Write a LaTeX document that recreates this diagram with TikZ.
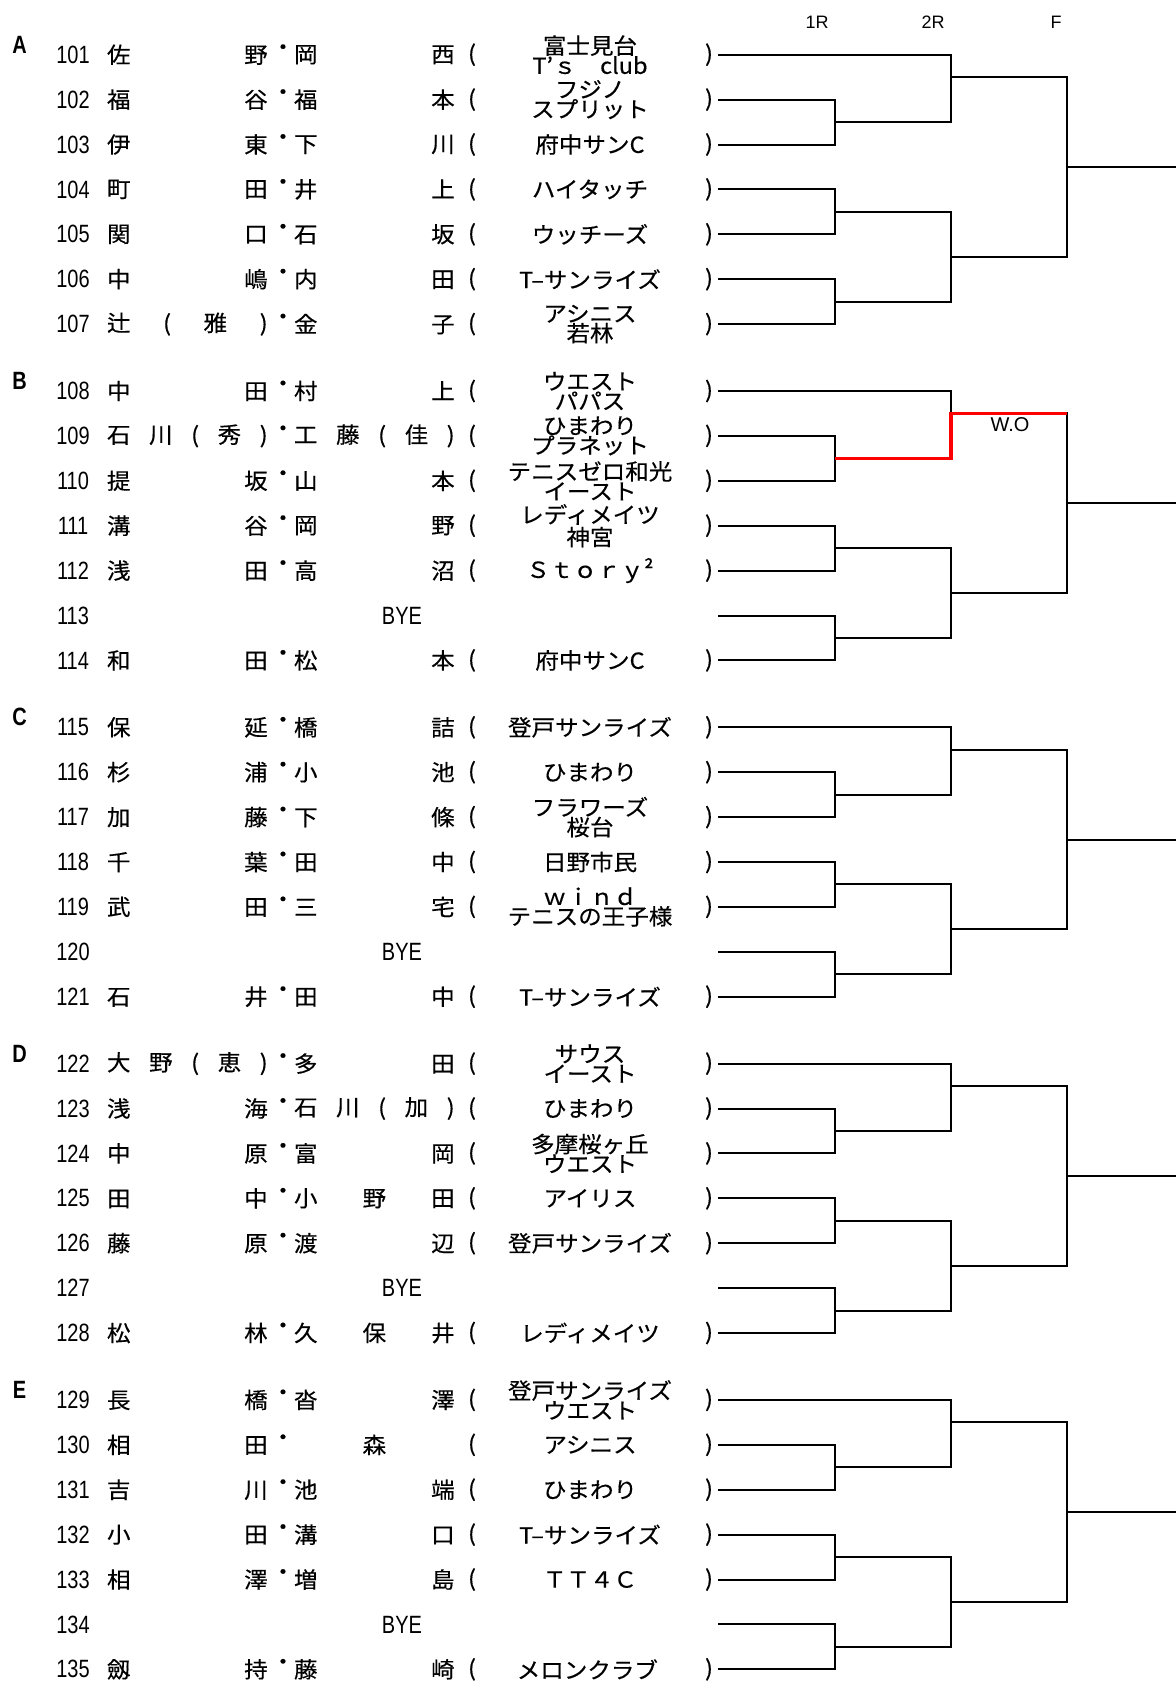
\documentclass[tikz,border=0pt]{standalone}
\usepackage{fontspec}
\setmainfont{Liberation Sans}
\newfontfamily\jpfont[FakeStretch=1.06,FakeBold=0.35]{Noto Sans CJK JP}
\newfontfamily\narrowfont[FakeStretch=0.8]{Liberation Sans}
\usetikzlibrary{calc}

% y of draw row #1 (0..34), 7 rows to a block
\newcommand\rowy[1]{\pgfmathsetmacro\yy{54.7+336.3*int(#1/7)+44.9*mod(#1,7)}}

\begin{document}
\begin{tikzpicture}[
    x=0.5pt, y=-0.5pt,
    line width=1pt,
    every node/.style={inner sep=0pt, outer sep=0pt},
    num/.style={font=\narrowfont\fontsize{12.5}{12.5}\selectfont},
    grp/.style={font=\narrowfont\bfseries\fontsize{12.5}{12.5}\selectfont},
    jp/.style={font=\jpfont\fontsize{11.1}{9.9}\selectfont},
    club/.style={jp, align=center},
    rnd/.style={font=\fontsize{9}{9}\selectfont},
    win/.style={red, line width=1.8pt}
]
    \useasboundingbox (0,0) rectangle (1176,1681);

    % Round headers
    \node[rnd] (h1) at (817,22) {1R};
    \node[rnd] (h2) at (933,22) {2R};
    \node[rnd] (h3) at (1056,22) {F};

    % Block letters
    \foreach \g [count=\bk from 0] in {A,B,C,D,E}
        \node[grp] (g\g) at (19.5,44.7+336.3*\bk) {\g};

    % Draw numbers and line ends
    \foreach \k in {0,...,34} {
        \pgfmathtruncatemacro\bk{int(\k/7)}
        \pgfmathtruncatemacro\rw{mod(\k,7)}
        \pgfmathtruncatemacro\pid{101+\k}
        \rowy{\k}
        \node[num] (no\pid) at (73,\yy) {\pid};
        \coordinate (e\bk-\rw) at (718,\yy);
    }

    % Pairs: names and clubs
    \foreach \k/\sa/\sb/\cl in {
        0/{佐\hfill 野}/{岡\hfill 西}/{富士見台\\T’ｓ　club},
        1/{福\hfill 谷}/{福\hfill 本}/{フジノ\\スプリット},
        2/{伊\hfill 東}/{下\hfill 川}/{府中サンC},
        3/{町\hfill 田}/{井\hfill 上}/{ハイタッチ},
        4/{関\hfill 口}/{石\hfill 坂}/{ウッチーズ},
        5/{中\hfill 嶋}/{内\hfill 田}/{T–サンライズ},
        6/{辻\hfill (\hfill 雅\hfill )}/{金\hfill 子}/{アシニス\\若林},
        7/{中\hfill 田}/{村\hfill 上}/{ウエスト\\パパス},
        8/{石\hfill 川\hfill (\hfill 秀\hfill )}/{工\hfill 藤\hfill (\hfill 佳\hfill )}/{ひまわり\\プラネット},
        9/{提\hfill 坂}/{山\hfill 本}/{テニスゼロ和光\\イースト},
        10/{溝\hfill 谷}/{岡\hfill 野}/{レディメイツ\\神宮},
        11/{浅\hfill 田}/{高\hfill 沼}/{Ｓｔｏｒｙ²},
        13/{和\hfill 田}/{松\hfill 本}/{府中サンC},
        14/{保\hfill 延}/{橋\hfill 詰}/{登戸サンライズ},
        15/{杉\hfill 浦}/{小\hfill 池}/{ひまわり},
        16/{加\hfill 藤}/{下\hfill 條}/{フラワーズ\\桜台},
        17/{千\hfill 葉}/{田\hfill 中}/{日野市民},
        18/{武\hfill 田}/{三\hfill 宅}/{ｗｉｎｄ\\テニスの王子様},
        20/{石\hfill 井}/{田\hfill 中}/{T–サンライズ},
        21/{大\hfill 野\hfill (\hfill 恵\hfill )}/{多\hfill 田}/{サウス\\イースト},
        22/{浅\hfill 海}/{石\hfill 川\hfill (\hfill 加\hfill )}/{ひまわり},
        23/{中\hfill 原}/{富\hfill 岡}/{多摩桜ヶ丘\\ウエスト},
        24/{田\hfill 中}/{小\hfill 野\hfill 田}/{アイリス},
        25/{藤\hfill 原}/{渡\hfill 辺}/{登戸サンライズ},
        27/{松\hfill 林}/{久\hfill 保\hfill 井}/{レディメイツ},
        28/{長\hfill 橋}/{沓\hfill 澤}/{登戸サンライズ\\ウエスト},
        29/{相\hfill 田}/{\hfill 森\hfill}/{アシニス},
        30/{吉\hfill 川}/{池\hfill 端}/{ひまわり},
        31/{小\hfill 田}/{溝\hfill 口}/{T–サンライズ},
        32/{相\hfill 澤}/{増\hfill 島}/{ＴＴ４Ｃ},
        34/{劔\hfill 持}/{藤\hfill 崎}/{メロンクラブ}
    } {
        \rowy{\k}
        \node[jp] (sa\k) at (187.35,\yy) {\makebox[80.35pt]{\sa}};
        \node[jp] (dt\k) at (283,\yy-5) {・};
        \node[jp] (sb\k) at (374.35,\yy) {\makebox[80.35pt]{\sb}};
        \node[jp] (lp\k) at (472,\yy) {(};
        \node[club] (cl\k) at (590,\yy) {\cl};
        \node[jp] (rp\k) at (709,\yy) {)};
    }

    % Byes
    \foreach \k in {12,19,26,33} {
        \rowy{\k}
        \node[num] (bye\k) at (402,\yy) {BYE};
    }

    % Brackets, one block at a time
    \foreach \bk in {0,...,4} {
        \draw (e\bk-1) -- ++(117,0) |- (e\bk-2);
        \draw (e\bk-3) -- ++(117,0) |- (e\bk-4);
        \draw (e\bk-5) -- ++(117,0) |- (e\bk-6);
        \coordinate (w\bk-a) at ($(e\bk-1)!.5!(e\bk-2)+(117,0)$);
        \coordinate (w\bk-b) at ($(e\bk-3)!.5!(e\bk-4)+(117,0)$);
        \coordinate (w\bk-c) at ($(e\bk-5)!.5!(e\bk-6)+(117,0)$);
        \draw (e\bk-0) -- ++(233,0) |- (w\bk-a);
        \draw (w\bk-b) -- ++(116,0) |- (w\bk-c);
        \coordinate (s\bk-a) at ($(e\bk-0)!.5!(e\bk-1)+(233,0)$);
        \coordinate (s\bk-b) at ($(w\bk-b)!.5!(w\bk-c)+(116,0)$);
        \draw (s\bk-a) -- ++(116,0) |- (s\bk-b);
        \coordinate (f\bk) at ($(s\bk-a)!.5!(s\bk-b)+(116,0)$);
        \draw (f\bk) -- ++(109,0);
    }

    % Walk-over in block B
    \draw[win] (w1-a) -| (s1-a) -- ++(116,0);
    \node (wo) at (1010,425) {W.O};

\end{tikzpicture}
\end{document}
